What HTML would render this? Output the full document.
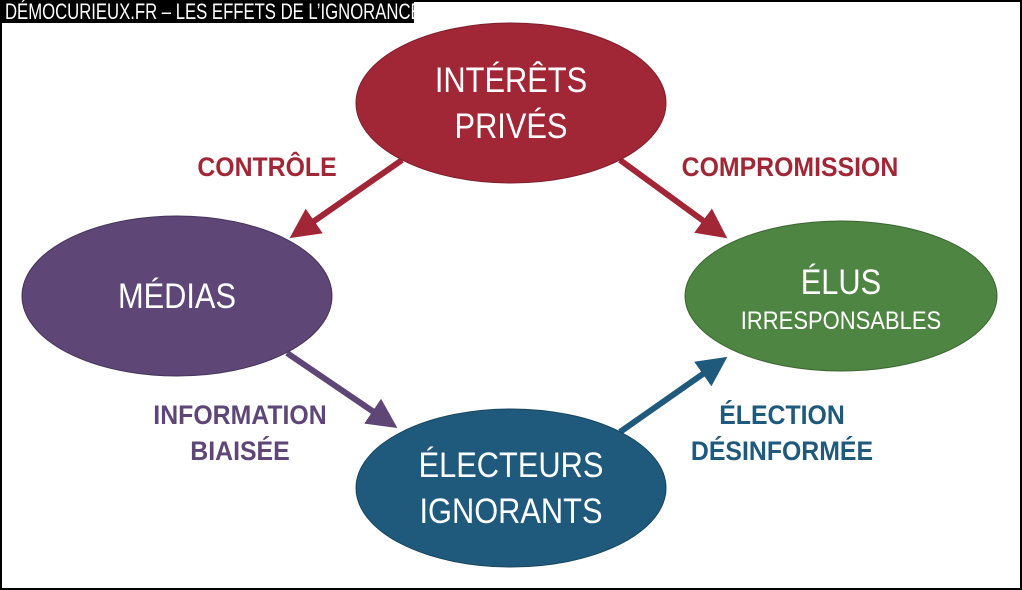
<!DOCTYPE html>
<html><head><meta charset="utf-8"><style>
html,body{margin:0;padding:0;background:#fff}
svg{display:block}
text{font-family:"Liberation Sans Narrow","Liberation Sans",sans-serif}
</style></head><body>
<svg width="1022" height="590" viewBox="0 0 1022 590" xmlns="http://www.w3.org/2000/svg">
<defs>
<marker id="mr" markerWidth="5" markerHeight="5" refX="3.5" refY="2.5" orient="auto" markerUnits="strokeWidth"><path d="M0,0 L5,2.5 L0,5 z" fill="#A12737"/></marker>
<marker id="mp" markerWidth="5" markerHeight="5" refX="3.5" refY="2.5" orient="auto" markerUnits="strokeWidth"><path d="M0,0 L5,2.5 L0,5 z" fill="#5E4676"/></marker>
<marker id="mb" markerWidth="5" markerHeight="5" refX="3.5" refY="2.5" orient="auto" markerUnits="strokeWidth"><path d="M0,0 L5,2.5 L0,5 z" fill="#1F5A7C"/></marker>
</defs>
<rect x="1" y="1" width="1020" height="588" fill="#fff" stroke="#000" stroke-width="2"/>
<rect x="0" y="0" width="414" height="23" fill="#000"/>
<text x="5" y="19" font-size="22" fill="#fff" transform="scale(0.76,1)" transform-origin="5 19">DÉMOCURIEUX.FR – LES EFFETS DE L’IGNORANCE</text>

<line x1="402" y1="160" x2="297" y2="233" stroke="#A12737" stroke-width="6" marker-end="url(#mr)"/>
<line x1="620" y1="160" x2="720" y2="233" stroke="#A12737" stroke-width="6" marker-end="url(#mr)"/>
<line x1="287" y1="353" x2="390" y2="423" stroke="#5E4676" stroke-width="6" marker-end="url(#mp)"/>
<line x1="620" y1="432" x2="720" y2="362" stroke="#1F5A7C" stroke-width="6" marker-end="url(#mb)"/>

<ellipse cx="511" cy="103" rx="155" ry="80" fill="#A12737" stroke="#7e1e2b" stroke-width="1"/>
<ellipse cx="177" cy="296" rx="155" ry="80" fill="#5E4676" stroke="#46345a" stroke-width="1"/>
<ellipse cx="841" cy="296" rx="156" ry="75" fill="#4E8542" stroke="#3a6531" stroke-width="1"/>
<ellipse cx="511" cy="488" rx="155" ry="79" fill="#1F5A7C" stroke="#17455f" stroke-width="1"/>

<g fill="#fff" text-anchor="middle" font-size="35">
<text x="511" y="92" transform="scale(0.88,1)" transform-origin="511 92">INTÉRÊTS</text>
<text x="511" y="138" transform="scale(0.88,1)" transform-origin="511 138">PRIVÉS</text>
<text x="177" y="308" transform="scale(0.88,1)" transform-origin="177 308">MÉDIAS</text>
<text x="841" y="294" transform="scale(0.88,1)" transform-origin="841 294">ÉLUS</text>
<text x="841" y="329" font-size="25" transform="scale(0.88,1)" transform-origin="841 329">IRRESPONSABLES</text>
<text x="511" y="477" transform="scale(0.88,1)" transform-origin="511 477">ÉLECTEURS</text>
<text x="511" y="523" transform="scale(0.88,1)" transform-origin="511 523">IGNORANTS</text>
</g>
<g font-weight="bold" font-size="27" text-anchor="middle">
<text x="267" y="176" fill="#A12737" transform="scale(0.92,1)" transform-origin="267 176">CONTRÔLE</text>
<text x="790" y="176" fill="#A12737" transform="scale(0.92,1)" transform-origin="790 176">COMPROMISSION</text>
<text x="240" y="424" fill="#5E4676" transform="scale(0.92,1)" transform-origin="240 424">INFORMATION</text>
<text x="240" y="460" fill="#5E4676" transform="scale(0.92,1)" transform-origin="240 460">BIAISÉE</text>
<text x="782" y="424" fill="#1F5A7C" transform="scale(0.92,1)" transform-origin="782 424">ÉLECTION</text>
<text x="782" y="460" fill="#1F5A7C" transform="scale(0.92,1)" transform-origin="782 460">DÉSINFORMÉE</text>
</g>
</svg>
</body></html>
